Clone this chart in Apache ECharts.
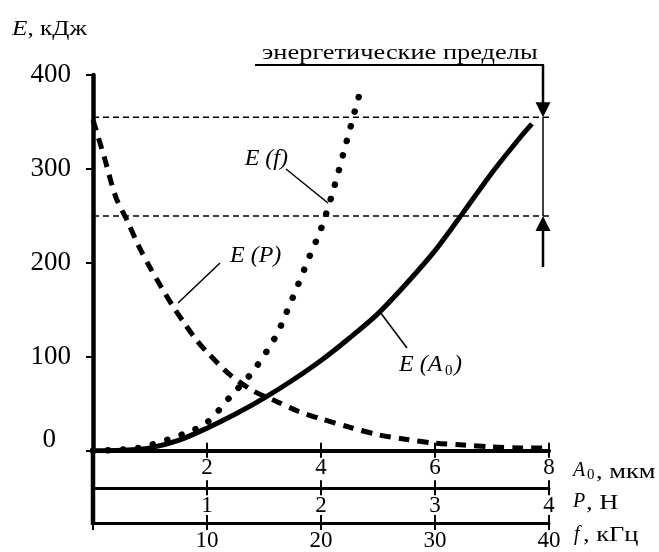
<!DOCTYPE html>
<html><head><meta charset="utf-8">
<script src="https://cdn.jsdelivr.net/npm/echarts@6/dist/echarts.min.js"></script>
<style>html,body{margin:0;padding:0;background:#fff}#c{width:659px;height:552px}</style>
</head><body><div id="c"></div>
<script>
const FONT = '"Liberation Serif", "Times New Roman", serif';

// E(A0): amplitude A0, мкм -> energy, кДж
const a0Values = [0, 0.5, 1, 1.5, 2, 2.5, 3, 3.5, 4, 4.5, 5, 5.5, 6, 6.5, 7, 7.5, 7.7];
const eA0 = [0, 0.5, 3, 11, 24, 39, 56, 75, 96, 120, 146, 178, 213, 254, 296, 334, 348];

// E(P): force P, Н -> energy
const pValues = [0, 0.1, 0.2, 0.3, 0.4, 0.5, 0.6, 0.7, 0.8, 0.9, 1.0, 1.2, 1.4, 1.6, 1.8, 2.0, 2.25, 2.5, 2.75, 3.0, 3.25, 3.5, 3.75, 4.0];
const eP = [352, 312, 270, 245, 218, 195, 174, 154, 136, 119, 105, 81, 64, 53, 42, 34, 25, 17, 12, 8, 6, 4, 3, 3];

// E(f): frequency f, кГц -> energy
const fValues = [0, 4, 8, 10, 12, 14, 16, 17, 18, 19, 20, 21, 22, 23, 23.6];
const eF = [0, 3, 18, 30, 57, 84, 121, 148, 177, 207, 236, 274, 318, 363, 389];

// energy limits, кДж
const limits = [250, 355];

// axis ranges / ticks
const yTicks = {min: 0, max: 400, step: 100};
const a0Axis = {min: 0, max: 8, step: 2};
const pAxis = {min: 0, max: 4, step: 1};
const fAxis = {min: 0, max: 40, step: 10};
const limitLineEndA0 = 8.23;

const chart = echarts.init(document.getElementById('c'));

function xAx(ax, offset, lw, inside) {
  return {
    type: 'value', min: ax.min, max: ax.max, interval: ax.step,
    position: 'bottom', offset: offset,
    axisLine: {show: !inside, onZero: false, lineStyle: {color: '#000', width: lw}},
    axisTick: {show: true, inside: inside, length: inside ? 8 : 7, lineStyle: {color: '#000', width: 2}},
    axisLabel: {show: !inside, margin: 6, fontSize: 23, fontFamily: FONT, color: '#000',
      formatter: v => v === 0 ? '' : String(v)},
    splitLine: {show: false}
  };
}

function pairs(xs, ys) { return xs.map((x, i) => [x, ys[i]]); }

const option = {
  animation: false,
  backgroundColor: '#fff',
  grid: {left: 93, right: 110, top: 75, bottom: 101.3, outerBoundsMode: 'none'},
  xAxis: [
    xAx(a0Axis, 0, 4, false),
    xAx(pAxis, 37.5, 3, false),
    xAx(fAxis, 72.3, 3, false),
    xAx(a0Axis, 0, 4, true),
    xAx(pAxis, 37.5, 3, true),
    xAx(fAxis, 72.3, 3, true)
  ],
  yAxis: {
    type: 'value', min: yTicks.min, max: yTicks.max, interval: yTicks.step,
    axisLine: {show: true, onZero: false, lineStyle: {color: '#000', width: 4.5}},
    axisTick: {show: true, length: 7, lineStyle: {color: '#000', width: 2}},
    axisLabel: {margin: 22, fontSize: 27, fontFamily: FONT, color: '#000',
      formatter: v => v === 0 ? '{z|0}' : String(v),
      rich: {z: {fontSize: 27, fontFamily: FONT, color: '#000', padding: [0, 15, 22, 0]}}},
    splitLine: {show: false}
  },
  series: [
    {type: 'line', name: 'E(A0)', xAxisIndex: 0, data: pairs(a0Values, eA0), showSymbol: false, smooth: 0.3,
      lineStyle: {color: '#000', width: 5}, silent: true, z: 3},
    {type: 'line', name: 'E(P)', xAxisIndex: 1, data: pairs(pValues, eP), showSymbol: false, smooth: 0.3,
      lineStyle: {color: '#000', width: 5, type: [11, 8]}, silent: true, z: 3},
    {type: 'line', name: 'E(f)', xAxisIndex: 2, data: pairs(fValues, eF), showSymbol: false, smooth: 0.3,
      lineStyle: {color: '#000', width: 6.5, type: [0.1, 15], cap: 'round'}, silent: true, z: 3},
    ...limits.map(v => ({type: 'line', xAxisIndex: 0, clip: false, data: [[0, v], [limitLineEndA0, v]],
      showSymbol: false, lineStyle: {color: '#000', width: 1.5, type: [6, 4]}, silent: true, z: 2}))
  ]
};
chart.setOption(option);

// annotations
const yTop = chart.convertToPixel({yAxisIndex: 0}, limits[1]);
const yBot = chart.convertToPixel({yAxisIndex: 0}, limits[0]);
const yZero = chart.convertToPixel({yAxisIndex: 0}, 0);
const xLeft = chart.convertToPixel({xAxisIndex: 0}, 0);
const ax = 543;
const blk = '#000';
function txt(t, x, y, font, align, sx) {
  return {type: 'text', silent: true, x: x, y: y, scaleX: sx || 1,
    style: {text: t, x: 0, y: 0, font: font, fill: blk,
      textAlign: align || 'left', textVerticalAlign: 'middle'}};
}
function seg(x1, y1, x2, y2, w) {
  return {type: 'line', silent: true, shape: {x1, y1, x2, y2}, style: {stroke: blk, lineWidth: w}};
}
const I24 = 'italic 24px ' + FONT;
const I20 = 'italic 20px ' + FONT;
const N22 = '22px ' + FONT;
const N15 = '15px ' + FONT;
const SX = 1.2;
const graphics = [
  // y axis extension down to the f axis
  seg(xLeft, yZero, xLeft, yZero + 74, 4.5),
  // title
  txt('E', 12, 29, 'italic 21px ' + FONT, 'left', SX),
  txt(', кДж', 27.5, 29, '21px ' + FONT, 'left', SX),
  // energy limits annotation
  txt('энергетические пределы', 262, 53, N22, 'left', SX),
  seg(255, 65, ax + 1, 65, 2),
  seg(ax, 65, ax, yTop - 13, 2.5),
  {type: 'polygon', silent: true, shape: {points: [[ax - 7.5, yTop - 15], [ax + 7.5, yTop - 15], [ax, yTop]]}, style: {fill: blk}},
  seg(ax, yTop, ax, yBot, 1.5),
  {type: 'polygon', silent: true, shape: {points: [[ax - 7.5, yBot + 15], [ax + 7.5, yBot + 15], [ax, yBot]]}, style: {fill: blk}},
  seg(ax, yBot + 13, ax, 267, 2.5),
  // curve labels
  txt('E (f)', 288, 159, I24, 'right'),
  seg(286, 169, 328, 203, 1.5),
  txt('E (P)', 230, 256, I24),
  seg(220, 263, 178, 303, 1.5),
  txt('E (A', 399, 365, I24),
  txt('0', 445, 371, N15),
  txt(')', 454, 365, I24),
  seg(380, 312, 407, 348, 1.5),
  // axis names
  txt('A', 573, 471, I20),
  txt('0', 587, 475, N15),
  txt(', мкм', 596, 472, N22, 'left', SX),
  txt('P', 573, 502, I20),
  txt(', Н', 586, 503, N22, 'left', SX),
  txt('f', 574, 535, I20),
  txt(', кГц', 583, 535, N22, 'left', SX)
];
chart.setOption({graphic: graphics});
</script>
</body></html>
